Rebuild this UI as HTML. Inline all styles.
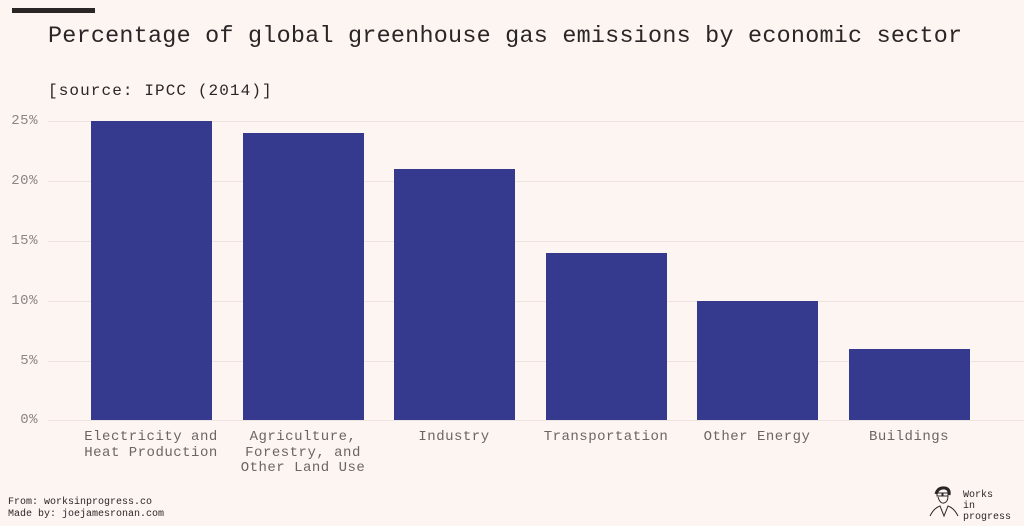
<!DOCTYPE html>
<html><head><style>
body{margin:0;width:1024px;height:526px;background:#fdf5f2;position:relative;overflow:hidden;font-family:"Liberation Mono",monospace}
.a{position:absolute;white-space:nowrap}
.g{position:absolute;left:48px;right:0;height:1px;background:#eee3df}
.t{position:absolute;left:0;width:38px;text-align:right;font-size:14px;color:#8a8583;letter-spacing:.5px}
.b{position:absolute;background:#363a8e;width:121px}
.l{position:absolute;width:160px;text-align:center;font-size:14px;color:#6b6563;line-height:15.5px;letter-spacing:.5px;top:430px}
</style></head><body>
<div class="a" style="left:12px;top:8px;width:83px;height:5px;background:#2a2626"></div>
<div class="a" style="left:48px;top:24px;font-size:23.4px;letter-spacing:0.25px;color:#2a2626">Percentage of global greenhouse gas emissions by economic sector</div>
<div class="a" style="left:48px;top:82px;font-size:16px;letter-spacing:1.1px;color:#2a2626">[source: IPCC (2014)]</div>
<div class="g" style="top:121px"></div><div class="g" style="top:181px"></div><div class="g" style="top:241px"></div><div class="g" style="top:301px"></div><div class="g" style="top:361px"></div><div class="g" style="top:420px"></div>
<div class="t" style="top:113px">25%</div><div class="t" style="top:173px">20%</div><div class="t" style="top:233px">15%</div><div class="t" style="top:293px">10%</div><div class="t" style="top:353px">5%</div><div class="t" style="top:412px">0%</div>
<div class="b" style="left:91px;top:121px;height:299px"></div>
<div class="b" style="left:243px;top:133px;height:287px"></div>
<div class="b" style="left:394px;top:169px;height:251px"></div>
<div class="b" style="left:546px;top:253px;height:167px"></div>
<div class="b" style="left:697px;top:301px;height:119px"></div>
<div class="b" style="left:849px;top:349px;height:71px"></div>
<div class="l" style="left:71px">Electricity and<br>Heat Production</div>
<div class="l" style="left:223px">Agriculture,<br>Forestry, and<br>Other Land Use</div>
<div class="l" style="left:374px">Industry</div>
<div class="l" style="left:526px">Transportation</div>
<div class="l" style="left:677px">Other Energy</div>
<div class="l" style="left:829px">Buildings</div>
<div class="a" style="left:8px;top:497px;font-size:10px;line-height:12px;color:#2a2626">From: worksinprogress.co<br>Made by: joejamesronan.com</div>
<svg class="a" style="left:928px;top:484px" width="32" height="34" viewBox="0 0 32 34" fill="none" stroke="#2a2626" stroke-width="1">
<path d="M8 10 Q10 3 17 4 Q22 5 21 11" stroke-width="3"/><rect x="9" y="9" width="5" height="3"/><rect x="15" y="9" width="5" height="3"/>
<path d="M10 13 Q12 20 16 19 Q20 18 20 12"/><path d="M2 32 Q6 24 12 22 L16 32 L20 22 Q26 24 30 32"/></svg>
<div class="a" style="left:963px;top:490px;font-size:10px;line-height:11px;color:#2a2626">Works<br>in<br>progress</div>
</body></html>
